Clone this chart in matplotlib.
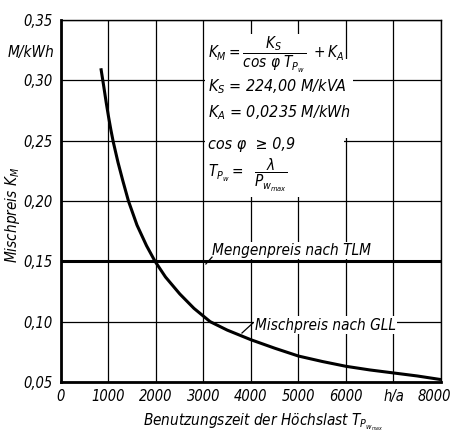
import numpy as np
import matplotlib.pyplot as plt
from matplotlib.patches import Rectangle
from matplotlib.transforms import ScaledTranslation

plt.rcParams['font.family'] = ['DejaVu Sans']
plt.rcParams['font.style'] = 'italic'
plt.rcParams['font.stretch'] = 'condensed'
plt.rcParams['mathtext.fontset'] = 'custom'
plt.rcParams['mathtext.it'] = 'DejaVu Sans:italic'
plt.rcParams['mathtext.rm'] = 'DejaVu Sans:italic'
plt.rcParams['mathtext.sf'] = 'DejaVu Sans:italic'

# Benutzungszeit (h/a) and Mischpreis (M/kWh)
t_pw = [840, 900, 950, 1000, 1050, 1100, 1200, 1300, 1420, 1600, 1800, 1980,
        2200, 2500, 2800, 3140, 3500, 4000, 4500, 5000, 5500, 6000, 6500,
        7000, 7500, 8000]
k_m = [0.310, 0.295, 0.282, 0.270, 0.259, 0.249, 0.232, 0.217, 0.200, 0.180,
       0.163, 0.150, 0.137, 0.123, 0.111, 0.100, 0.093, 0.085, 0.078, 0.0715,
       0.067, 0.063, 0.060, 0.0575, 0.055, 0.052]

# Mengenpreis nach TLM
t_tlm = [0, 8000]
k_tlm = [0.15, 0.15]

xticks = [0, 1000, 2000, 3000, 4000, 5000, 6000, 7000, 8000]
xlabels = ['0', '1000', '2000', '3000', '4000', '5000', '6000', 'h/a', '8000']
yticks = [0.05, 0.10, 0.15, 0.20, 0.25, 0.30, 0.35]
ylabels = ['0,05', '0,10', '0,15', '0,20', '0,25', '0,30', '0,35']

fig = plt.figure(figsize=(4.54, 4.37), dpi=100)
ax = fig.add_axes([61/454, 1-382/437, 380/454, 362/437])

ax.plot(t_tlm, k_tlm, color='black', lw=2.2, zorder=3)
ax.plot(t_pw, k_m, color='black', lw=2.2, zorder=3, solid_capstyle='butt')

ax.set_xlim(0, 8000)
ax.set_ylim(0.05, 0.35)
ax.set_xticks(xticks)
ax.set_xticklabels(xlabels)
ax.set_yticks(yticks)
ax.set_yticklabels(ylabels)
ax.tick_params(length=0, labelsize=10.5, pad=6)
ax.tick_params(axis='x', pad=5)
ax.grid(True, color='black', lw=0.9)
ax.set_axisbelow(True)
for s in ['left', 'bottom']:
    ax.spines[s].set_linewidth(2.0)
for s in ['top', 'right']:
    ax.spines[s].set_linewidth(1.0)

# last x label sits a bit left so it stays inside the picture
last = ax.get_xticklabels()[-1]
last.set_transform(last.get_transform() + ScaledTranslation(-7/100, 0, fig.dpi_scale_trans))

# white field behind the formulas
ax.add_patch(Rectangle((3030, 0.203), 2920, 0.135, fc='white', ec='none', zorder=1))
ax.add_patch(Rectangle((5950, 0.252), 200, 0.066, fc='white', ec='none', zorder=1))

fs = 11
ax.text(3095, 0.321, r'$K_M = \dfrac{K_S}{\cos\,\varphi\ T_{P_w}}\ + K_A$',
        fontsize=fs, va='center', ha='left', zorder=4)
ax.text(3095, 0.2945, r'$K_S$ = 224,00 M/kVA', fontsize=11.5, va='center', zorder=4)
ax.text(3095, 0.273, r'$K_A$ = 0,0235 M/kWh', fontsize=11.5, va='center', zorder=4)
ax.text(3095, 0.247, 'cos φ  ≥ 0,9', fontsize=11.5, va='center', zorder=4)
ax.text(3095, 0.2215, r'$T_{P_w} = \ \ \dfrac{\lambda}{P_{w_{max}}}$',
        fontsize=fs, va='center', zorder=4)

bb = dict(fc='white', ec='none', pad=1)
ax.text(3180, 0.159, 'Mengenpreis nach TLM', fontsize=fs, va='center', bbox=bb, zorder=4)
ax.plot([3180, 3050], [0.1535, 0.1478], color='black', lw=0.9, zorder=4)
ax.text(4085, 0.0972, 'Mischpreis nach GLL', fontsize=fs, va='center', bbox=bb, zorder=4)
ax.plot([4040, 3810], [0.0989, 0.0906], color='black', lw=0.9, zorder=4)

fig.text(31/454, 1-53/437, 'M/kWh', fontsize=fs, ha='center', va='center')
fig.text(13/454, 1-215/437, r'Mischpreis $K_M$', fontsize=fs, rotation=90,
         ha='center', va='center')
fig.text(143/454, 1-425/437, r'Benutzungszeit der Höchslast $T_{P_{w_{max}}}$',
         fontsize=fs, ha='left', va='baseline')

fig.savefig('out.png', dpi=100)
